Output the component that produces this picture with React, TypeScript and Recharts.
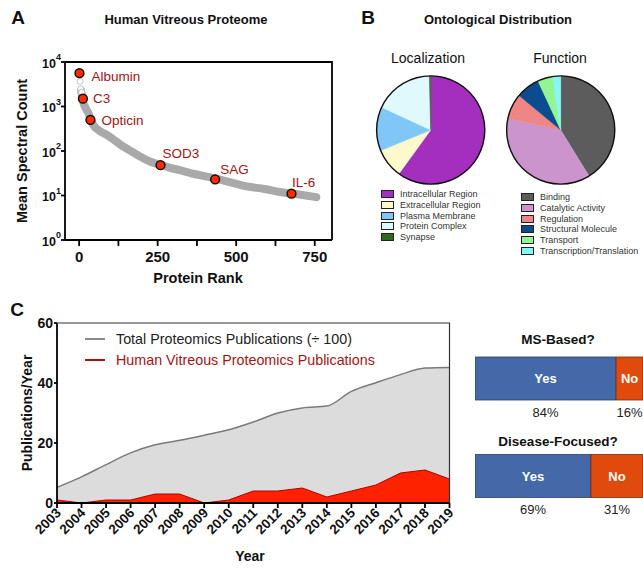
import {
  Area,
  AreaChart,
  Bar,
  BarChart,
  Cell,
  ComposedChart,
  LabelList,
  Line,
  Pie,
  PieChart,
  Scatter,
  XAxis,
  YAxis,
} from "recharts";

const FONT = "'Liberation Sans', Arial, Helvetica, sans-serif";

// A: protein rank vs mean spectral count (grey band)
const BAND_RANK = [6, 10, 14, 20, 30, 45, 60, 88, 115, 141, 170, 194, 225, 257, 290, 321, 370, 426, 480, 533, 590, 638, 700, 755];
const BAND_COUNT = [2300, 1600, 1180, 950, 700, 385, 300, 230, 170, 125, 95, 75, 58, 49, 42, 37, 30, 25, 20, 16, 14, 12, 10.5, 9.2];
const FAINT_RANK = [3, 5, 8];
const FAINT_COUNT = [3700, 2500, 2100];
const MARKED_NAMES = ["Albumin", "C3", "Opticin", "SOD3", "SAG", "IL-6"];
const MARKED_RANK = [1, 12, 36, 259, 433, 676];
const MARKED_COUNT = [5600, 1500, 500, 48, 23, 11];
const RANK_TICKS = [0, 125, 250, 375, 500, 625, 750];
const COUNT_TICKS = [1, 10, 100, 1000, 10000];

// B: ontology shares (%)
const LOC_NAMES = ["Intracellular Region", "Extracellular Region", "Plasma Membrane", "Protein Complex", "Synapse"];
const LOC_SHARE = [60, 8.8, 13.1, 17.7, 0.4];
const LOC_COLORS = ["#a42fbf", "#fcf9cc", "#80c6f6", "#dff9fc", "#2e6a1e"];
const FUNC_NAMES = ["Binding", "Catalytic Activity", "Regulation", "Structural Molecule", "Transport", "Transcription/Translation"];
const FUNC_SHARE = [41.2, 37.2, 7.6, 7.1, 4.6, 2.3];
const FUNC_COLORS = ["#5c5c5c", "#cc94cc", "#ef8686", "#0a4c8e", "#93f493", "#86f7f7"];

// C: publications per year
const YEARS = ["2003", "2004", "2005", "2006", "2007", "2008", "2009", "2010", "2011", "2012", "2013", "2014", "2015", "2016", "2017", "2018", "2019"];
const TOTAL_PUBS = [5.2, 8.7, 12.8, 16.7, 19.4, 20.9, 22.6, 24.4, 27, 30, 31.7, 32.3, 37.2, 40.1, 42.8, 45, 45.2];
const HUMAN_PUBS = [1, 0, 1, 1, 3, 3, 0, 1, 4, 4, 5, 2, 4, 6, 10, 11, 8];

// right: study breakdown (%)
const QUESTIONS = ["MS-Based?", "Disease-Focused?"];
const YES_PCT = [84, 69];
const NO_PCT = [16, 31];

const band = BAND_RANK.map((rank, i) => ({ rank, count: BAND_COUNT[i] }));
const faint = FAINT_RANK.map((rank, i) => ({ rank, count: FAINT_COUNT[i] }));
const marked = MARKED_NAMES.map((name, i) => ({ name, rank: MARKED_RANK[i], count: MARKED_COUNT[i] }));
const locData = LOC_NAMES.map((name, i) => ({ name, value: LOC_SHARE[i] }));
const funcData = FUNC_NAMES.map((name, i) => ({ name, value: FUNC_SHARE[i] }));
const pubs = YEARS.map((year, i) => ({ year, total: TOTAL_PUBS[i], human: HUMAN_PUBS[i] }));
const studies = QUESTIONS.map((q, i) => ({ q, yes: YES_PCT[i], no: NO_PCT[i] }));

// where each protein name sits relative to its dot
const MARK_LABEL_OFFSET: Record<string, [number, number]> = {
  Albumin: [12, 3.5],
  C3: [10, 0],
  Opticin: [11, 0],
  SOD3: [2, -12],
  SAG: [5, -10.5],
  "IL-6": [0.5, -11],
};

function Txt({ x, y, size, bold, color = "#111", rotate = 0, anchor = "center", children }: any) {
  const tx = anchor === "left" ? "0" : "-50%";
  return (
    <div
      style={{
        position: "absolute",
        left: x,
        top: y,
        transform: `translate(${tx},-50%) rotate(${rotate}deg)`,
        fontSize: size,
        fontWeight: bold ? "bold" : "normal",
        color,
        whiteSpace: "nowrap",
        lineHeight: 1,
        fontFamily: FONT,
      }}
    >
      {children}
    </div>
  );
}

// top and right edges of the two boxed plots, drawn in one overlay
function Frames() {
  return (
    <svg
      width={643}
      height={568}
      style={{ position: "absolute", left: 0, top: 0, zIndex: 10, pointerEvents: "none" }}
    >
      <polyline points="65,62 332,62 332,240" fill="none" stroke="#000" strokeWidth={1.8} />
      <polyline points="57,323 449.5,323 449.5,503" fill="none" stroke="#333" strokeWidth={1.2} />
    </svg>
  );
}

function PowerTick({ x, y, payload }: any) {
  const exp = Math.round(Math.log10(payload.value));
  return (
    <text x={x} y={y} textAnchor="end" fontFamily={FONT} fontWeight="bold" fontSize={12.5} fill="#111">
      <tspan dy="0.45em">10</tspan>
      <tspan dy="-0.8em" fontSize={9}>
        {exp}
      </tspan>
    </text>
  );
}

function RankTick({ x, y, payload }: any) {
  if (payload.value % 250 !== 0) return null;
  return (
    <text x={x} y={y} dy="0.71em" textAnchor="middle" fontFamily={FONT} fontWeight="bold" fontSize={15} fill="#111">
      {payload.value}
    </text>
  );
}

function YearTick({ x, y, payload }: any) {
  return (
    <g transform={`translate(${x},${y})`}>
      <text transform="rotate(-45)" textAnchor="end" dy="0.5em" fontFamily={FONT} fontWeight="bold" fontSize={13.5} fill="#111">
        {payload.value}
      </text>
    </g>
  );
}

function MarkedDot(p: any) {
  const [dx, dy] = MARK_LABEL_OFFSET[p.payload.name] ?? [8, 0];
  return (
    <g>
      <circle cx={p.cx} cy={p.cy} r={4.4} fill="#ff2a00" stroke="#111" strokeWidth={1.5} />
      <text x={p.cx + dx} y={p.cy + dy} dy="0.35em" fontFamily={FONT} fontSize={13.5} fill="#a31414">
        {p.payload.name}
      </text>
    </g>
  );
}

function FaintDot(p: any) {
  return <circle cx={p.cx} cy={p.cy} r={3} fill="#fff" stroke="#c4c4c4" strokeWidth={1} />;
}

function insideLabel(text: string) {
  return (p: any) => {
    const vb = p.viewBox ?? p;
    return (
      <text
        x={vb.x + vb.width / 2}
        y={vb.y + vb.height / 2}
        dy="0.35em"
        textAnchor="middle"
        fontFamily={FONT}
        fontWeight="bold"
        fontSize={13}
        fill="#fff"
      >
        {text}
      </text>
    );
  };
}

function belowLabel(p: any) {
  const vb = p.viewBox ?? p;
  return (
    <text
      x={vb.x + vb.width / 2}
      y={vb.y + vb.height + 12}
      dy="0.35em"
      textAnchor="middle"
      fontFamily={FONT}
      fontSize={13}
      fill="#222"
    >
      {p.value}%
    </text>
  );
}

function PieLegend({ x, y, names, colors }: { x: number; y: number; names: string[]; colors: string[] }) {
  return (
    <div style={{ position: "absolute", left: x, top: y, fontFamily: FONT, fontSize: 9, color: "#333" }}>
      {names.map((n, i) => (
        <div key={n} style={{ display: "flex", alignItems: "center", height: 10.85 }}>
          <span
            style={{
              display: "inline-block",
              width: 11,
              height: 6,
              background: colors[i],
              border: "0.8px solid #222",
              marginRight: 6.5,
            }}
          />
          {n}
        </div>
      ))}
    </div>
  );
}

export default function App() {
  return (
    <div style={{ position: "absolute", left: 0, top: 0, width: 643, height: 568, background: "#fff", overflow: "hidden" }}>
      {/* A */}
      <Txt x={18} y={17} size={19} bold>A</Txt>
      <Txt x={186} y={19} size={13} bold>Human Vitreous Proteome</Txt>
      <Txt x={22} y={151} size={14.5} bold rotate={-90}>Mean Spectral Count</Txt>
      <Txt x={198} y={278} size={14.5} bold>Protein Rank</Txt>
      <div style={{ position: "absolute", left: 0, top: 0 }}>
        <ComposedChart width={340} height={290} margin={{ top: 62, right: 8, left: 25, bottom: 20 }}>
          <XAxis
            dataKey="rank"
            type="number"
            domain={[-45, 805]}
            ticks={RANK_TICKS}
            allowDataOverflow
            height={30}
            tick={<RankTick />}
            tickSize={6}
            tickMargin={5.5}
            stroke="#000"
            strokeWidth={1.8}
          />
          <YAxis
            dataKey="count"
            type="number"
            scale="log"
            domain={[1, 10000]}
            ticks={COUNT_TICKS}
            allowDataOverflow
            width={40}
            tick={<PowerTick />}
            tickSize={4}
            tickMargin={0}
            stroke="#000"
            strokeWidth={1.8}
          />
          <Line
            data={band}
            dataKey="count"
            type="monotone"
            stroke="#a9a9a9"
            strokeWidth={8}
            strokeLinecap="round"
            dot={false}
            isAnimationActive={false}
          />
          <Scatter data={faint} dataKey="count" shape={FaintDot} isAnimationActive={false} />
          <Scatter data={marked} dataKey="count" shape={MarkedDot} isAnimationActive={false} />
        </ComposedChart>
      </div>

      {/* B */}
      <Txt x={368} y={17} size={19} bold>B</Txt>
      <Txt x={498} y={19} size={13} bold>Ontological Distribution</Txt>
      <Txt x={428} y={58} size={14}>Localization</Txt>
      <Txt x={560} y={58} size={14}>Function</Txt>
      <div style={{ position: "absolute", left: 330, top: 60 }}>
        <PieChart width={313} height={140} margin={{ top: 0, right: 0, left: 0, bottom: 0 }}>
          <Pie
            data={locData}
            dataKey="value"
            cx={100.7}
            cy={70}
            outerRadius={54}
            startAngle={90}
            endAngle={-270}
            isAnimationActive={false}
          >
            {locData.map((d, i) => (
              <Cell key={d.name} fill={LOC_COLORS[i]} stroke={LOC_COLORS[i]} strokeWidth={0.5} />
            ))}
          </Pie>
          <Pie
            data={funcData}
            dataKey="value"
            cx={230.7}
            cy={70}
            outerRadius={54}
            startAngle={90}
            endAngle={-270}
            isAnimationActive={false}
          >
            {funcData.map((d, i) => (
              <Cell key={d.name} fill={FUNC_COLORS[i]} stroke={FUNC_COLORS[i]} strokeWidth={0.5} />
            ))}
          </Pie>
          {/* outline rings */}
          <Pie data={[{ value: 1 }]} dataKey="value" cx={100.7} cy={70} innerRadius={53.4} outerRadius={54.8} fill="#111" stroke="none" isAnimationActive={false} />
          <Pie data={[{ value: 1 }]} dataKey="value" cx={230.7} cy={70} innerRadius={53.4} outerRadius={54.8} fill="#111" stroke="none" isAnimationActive={false} />
        </PieChart>
      </div>
      <PieLegend x={380.5} y={188.5} names={LOC_NAMES} colors={LOC_COLORS} />
      <PieLegend x={520.5} y={191.5} names={FUNC_NAMES} colors={FUNC_COLORS} />

      {/* C */}
      <Txt x={17} y={309} size={19} bold>C</Txt>
      <Txt x={27} y={413} size={14} bold rotate={-90}>Publications/Year</Txt>
      <Txt x={250} y={556} size={14} bold>Year</Txt>
      <div style={{ position: "absolute", left: 0, top: 300 }}>
        <AreaChart width={460} height={268} data={pubs} margin={{ top: 23, right: 10.5, left: 27, bottom: 25 }}>
          <XAxis
            dataKey="year"
            interval={0}
            height={40}
            tick={<YearTick />}
            tickSize={5}
            tickMargin={1}
            stroke="#000"
            strokeWidth={1.8}
          />
          <YAxis
            type="number"
            domain={[0, 60]}
            ticks={[0, 20, 40, 60]}
            width={30}
            tickSize={3}
            tickMargin={1}
            stroke="#000"
            strokeWidth={1.8}
            tick={{ fontSize: 14, fontWeight: "bold", fill: "#111", fontFamily: FONT }}
          />
          <Area
            dataKey="total"
            type="monotone"
            stroke="#7a7a7a"
            strokeWidth={1.5}
            fill="#dcdcdc"
            fillOpacity={1}
            isAnimationActive={false}
          />
          <Area
            dataKey="human"
            type="linear"
            stroke="#b30000"
            strokeWidth={1}
            fill="#ff2200"
            fillOpacity={1}
            isAnimationActive={false}
          />
        </AreaChart>
      </div>
      <div style={{ position: "absolute", left: 85, top: 338, width: 20, height: 2, background: "#8a8a8a" }} />
      <Txt x={116} y={339} size={14.3} color="#222" anchor="left">Total Proteomics Publications (÷ 100)</Txt>
      <div style={{ position: "absolute", left: 85, top: 358.5, width: 20, height: 2, background: "#b01010" }} />
      <Txt x={116} y={359.5} size={14.3} color="#a81212" anchor="left">Human Vitreous Proteomics Publications</Txt>

      {/* study breakdown */}
      <Txt x={558} y={340} size={13.5} bold>{QUESTIONS[0]}</Txt>
      <Txt x={558} y={442} size={13.5} bold>{QUESTIONS[1]}</Txt>
      <div style={{ position: "absolute", left: 475, top: 330 }}>
        <BarChart width={168} height={195} data={studies} layout="vertical" margin={{ top: 0, right: 0, left: 0, bottom: 0 }}>
          <XAxis type="number" domain={[0, 100]} hide />
          <YAxis type="category" dataKey="q" hide />
          <Bar dataKey="yes" stackId="s" fill="#4468a8" stroke="#2b3f63" strokeWidth={0.8} barSize={43} isAnimationActive={false}>
            <LabelList dataKey="yes" content={insideLabel("Yes")} />
            <LabelList dataKey="yes" content={belowLabel} />
          </Bar>
          <Bar dataKey="no" stackId="s" fill="#e04a0c" stroke="#7a2a08" strokeWidth={0.8} barSize={43} isAnimationActive={false}>
            <LabelList dataKey="no" content={insideLabel("No")} />
            <LabelList dataKey="no" content={belowLabel} />
          </Bar>
        </BarChart>
      </div>

      <Frames />
    </div>
  );
}
